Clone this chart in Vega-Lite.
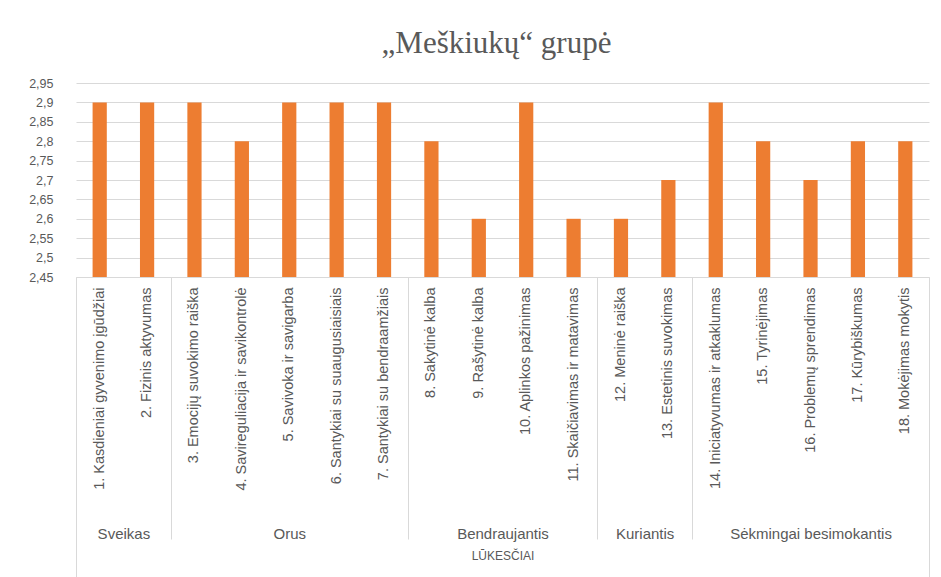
{
  "$schema": "https://vega.github.io/schema/vega-lite/v6.json",
  "autosize": "none",
  "width": 853,
  "height": 194,
  "padding": {"left": 76, "top": 83, "right": 12, "bottom": 300},
  "background": "white",
  "title": {
    "text": "„Meškiukų“ grupė",
    "font": "Liberation Serif",
    "fontSize": 31,
    "fontWeight": "normal",
    "color": "#595959",
    "frame": "group",
    "anchor": "middle",
    "dx": -6,
    "offset": 17
  },
  "datasets": {
    "scores": [
      {"item": "1. Kasdieniai gyvenimo įgūdžiai", "value": 2.9},
      {"item": "2. Fizinis aktyvumas", "value": 2.9},
      {"item": "3. Emocijų suvokimo raiška", "value": 2.9},
      {"item": "4. Savireguliacija ir savikontrolė", "value": 2.8},
      {"item": "5. Savivoka ir savigarba", "value": 2.9},
      {"item": "6. Santykiai su suaugusiaisiais", "value": 2.9},
      {"item": "7. Santykiai su bendraamžiais", "value": 2.9},
      {"item": "8. Sakytinė kalba", "value": 2.8},
      {"item": "9. Rašytinė kalba", "value": 2.6},
      {"item": "10. Aplinkos pažinimas", "value": 2.9},
      {"item": "11. Skaičiavimas ir matavimas", "value": 2.6},
      {"item": "12. Meninė raiška", "value": 2.6},
      {"item": "13. Estetinis suvokimas", "value": 2.7},
      {"item": "14. Iniciatyvumas ir atkaklumas", "value": 2.9},
      {"item": "15. Tyrinėjimas", "value": 2.8},
      {"item": "16. Problemų sprendimas", "value": 2.7},
      {"item": "17. Kūrybiškumas", "value": 2.8},
      {"item": "18. Mokėjimas mokytis", "value": 2.8}
    ],
    "groups": [
      {"group": "Sveikas", "mid": 1},
      {"group": "Orus", "mid": 4.5},
      {"group": "Bendraujantis", "mid": 9},
      {"group": "Kuriantis", "mid": 12},
      {"group": "Sėkmingai besimokantis", "mid": 15.5}
    ],
    "innerBounds": [
      {"pos": 2}, {"pos": 7}, {"pos": 11}, {"pos": 13}
    ],
    "outerBounds": [
      {"pos": 0}, {"pos": 18}
    ]
  },
  "resolve": {"scale": {"x": "independent"}, "axis": {"x": "independent"}},
  "layer": [
    {
      "data": {"name": "scores"},
      "mark": {"type": "bar", "color": "#ED7D31", "clip": true},
      "encoding": {
        "x": {
          "field": "item",
          "type": "nominal",
          "sort": null,
          "scale": {"paddingInner": 0.7, "paddingOuter": 0.35},
          "axis": {
            "orient": "bottom",
            "title": null,
            "labelAngle": -90,
            "labelFont": "Liberation Sans",
            "labelFontSize": 14.5,
            "labelLimit": 320,
            "labelPadding": 10,
            "ticks": false,
            "domainColor": "#d9d9d9"
          }
        },
        "y": {
          "field": "value",
          "type": "quantitative",
          "scale": {"domain": [2.45, 2.95], "zero": false, "nice": false},
          "axis": {
            "title": null,
            "values": [2.45, 2.5, 2.55, 2.6, 2.65, 2.7, 2.75, 2.8, 2.85, 2.9, 2.95],
            "labelExpr": "replace(format(datum.value, '.2~f'), '.', ',')",
            "labelFont": "Liberation Sans",
            "labelFontSize": 12.5,
            "labelPadding": 23,
            "ticks": false,
            "domain": false,
            "gridColor": "#d9d9d9"
          }
        },
        "y2": {"datum": 2.45}
      }
    },
    {
      "data": {"name": "groups"},
      "mark": {"type": "point", "opacity": 0},
      "encoding": {
        "x": {
          "field": "mid",
          "type": "quantitative",
          "scale": {"domain": [0, 18], "nice": false, "zero": false},
          "axis": {
            "orient": "bottom",
            "offset": 247,
            "values": [1, 4.5, 9, 12, 15.5],
            "labelExpr": "datum.value == 1 ? 'Sveikas' : datum.value == 4.5 ? 'Orus' : datum.value == 9 ? 'Bendraujantis' : datum.value == 12 ? 'Kuriantis' : 'Sėkmingai besimokantis'",
            "labelFont": "Liberation Sans",
            "labelFontSize": 15,
            "labelPadding": 2,
            "labelLimit": 300,
            "ticks": false,
            "domain": false,
            "grid": false,
            "title": "LŪKESČIAI",
            "titleFont": "Liberation Sans",
            "titleFontSize": 12,
            "titleFontWeight": "normal",
            "titlePadding": 9
          }
        }
      }
    },
    {
      "data": {"name": "innerBounds"},
      "mark": {"type": "point", "opacity": 0},
      "encoding": {
        "x": {
          "field": "pos",
          "type": "quantitative",
          "scale": {"domain": [0, 18], "nice": false, "zero": false},
          "axis": {
            "orient": "bottom",
            "offset": 0,
            "values": [2, 7, 11, 13],
            "labels": false,
            "domain": false,
            "grid": false,
            "ticks": true,
            "tickSize": 262,
            "tickColor": "#d9d9d9",
            "title": null
          }
        }
      }
    },
    {
      "data": {"name": "outerBounds"},
      "mark": {"type": "point", "opacity": 0},
      "encoding": {
        "x": {
          "field": "pos",
          "type": "quantitative",
          "scale": {"domain": [0, 18], "nice": false, "zero": false},
          "axis": {
            "orient": "bottom",
            "offset": 0,
            "values": [0, 18],
            "labels": false,
            "domain": false,
            "grid": false,
            "ticks": true,
            "tickSize": 300,
            "tickColor": "#d9d9d9",
            "title": null
          }
        }
      }
    }
  ],
  "config": {
    "view": {"stroke": null},
    "axis": {
      "labelColor": "#595959",
      "titleColor": "#595959",
      "domainColor": "#d9d9d9",
      "tickColor": "#d9d9d9",
      "gridColor": "#d9d9d9"
    }
  }
}
